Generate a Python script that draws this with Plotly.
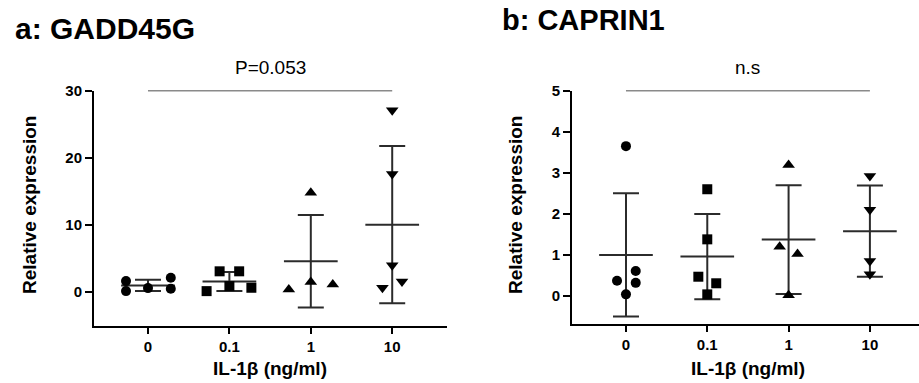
import plotly.graph_objects as go

# ---------------- data ----------------
dose_labels = ["0", "0.1", "1", "10"]

# Panel a: GADD45G
gadd_g0 = [1.64, 0.15, 0.6, 2.15, 0.5]
gadd_g01 = [0.15, 3.1, 0.9, 3.1, 0.65]
gadd_g1 = [0.4, 14.8, 1.5, 1.15]
gadd_g10 = [27.1, 17.6, 4.0, 0.65, 1.6]
gadd_mean = [1.0, 1.58, 4.6, 10.05]
gadd_sd = [0.85, 1.42, 6.9, 11.7]

# Panel b: CAPRIN1
cap_g0 = [3.65, 0.37, 0.61, 0.32, 0.04]
cap_g01 = [2.6, 1.38, 0.47, 0.31, 0.04]
cap_g1 = [3.19, 1.2, 1.02, 0.02]
cap_g10 = [2.92, 2.1, 0.85, 0.53]
cap_mean = [1.0, 0.96, 1.375, 1.58]
cap_sd = [1.5, 1.04, 1.325, 1.11]

# horizontal scatter offsets (category units)
gadd_off = [[-0.27, -0.27, 0, 0.28, 0.28],
            [-0.28, -0.12, 0, 0.12, 0.27],
            [-0.27, 0, 0, 0.27],
            [0, 0, 0, -0.12, 0.12]]
cap_off = [[0, -0.11, 0.12, 0.12, 0],
           [0, 0, -0.11, 0.11, 0],
           [0, -0.11, 0.11, 0],
           [0, 0, 0, 0]]

symbols = ["circle", "square", "triangle-up", "triangle-down"]
sizes = [10, 10, 11, 11]

FONT = "Liberation Sans, Arial, sans-serif"
LINE_COL = "#2b2b2b"

fig = go.Figure()


def add_panel(groups, offsets, means, sds, xa, ya):
    # mean lines
    for i, m in enumerate(means):
        fig.add_trace(go.Scatter(
            x=[i - 0.33, i + 0.33], y=[m, m], mode="lines",
            line=dict(color=LINE_COL, width=2), xaxis=xa, yaxis=ya,
            showlegend=False, hoverinfo="skip"))
    # SD error bars
    fig.add_trace(go.Scatter(
        x=list(range(len(means))), y=means, mode="markers",
        marker=dict(size=1, color="rgba(0,0,0,0)"),
        error_y=dict(type="data", array=sds, symmetric=True, color=LINE_COL,
                     thickness=2, width=13),
        xaxis=xa, yaxis=ya, showlegend=False, hoverinfo="skip"))
    # points
    for i, (vals, offs) in enumerate(zip(groups, offsets)):
        fig.add_trace(go.Scatter(
            x=[i + o for o in offs], y=vals, mode="markers",
            marker=dict(symbol=symbols[i], size=sizes[i], color="black",
                        line=dict(width=0)),
            xaxis=xa, yaxis=ya, showlegend=False, cliponaxis=False))


add_panel([gadd_g0, gadd_g01, gadd_g1, gadd_g10], gadd_off, gadd_mean, gadd_sd, "x", "y")
add_panel([cap_g0, cap_g01, cap_g1, cap_g10], cap_off, cap_mean, cap_sd, "x2", "y2")

tickfont = dict(family=FONT, size=15, color="black", weight="bold")
xcommon = dict(tickvals=[0, 1, 2, 3], ticktext=dose_labels, showline=True,
               linecolor="black", linewidth=2, ticks="outside", ticklen=6,
               tickwidth=2, tickcolor="black", showgrid=False, zeroline=False,
               tickfont=tickfont, fixedrange=True, automargin=False)
ycommon = dict(showline=True, linecolor="black", linewidth=2, ticks="outside",
               ticklen=7, tickwidth=2, tickcolor="black", showgrid=False,
               zeroline=False, tickfont=tickfont, fixedrange=True, automargin=False)

fig.update_layout(
    template="none",
    width=919, height=383,
    margin=dict(l=0, r=0, t=0, b=0, autoexpand=False),
    paper_bgcolor="white", plot_bgcolor="white",
    xaxis=dict(domain=[0.1023, 0.4864], range=[-0.663, 3.673], anchor="y", **xcommon),
    yaxis=dict(domain=[0.1496, 0.7632], range=[-5, 30], tickvals=[0, 10, 20, 30],
               anchor="x", **ycommon),
    xaxis2=dict(domain=[0.6224, 1.0], range=[-0.664, 3.604], anchor="y2", **xcommon),
    yaxis2=dict(domain=[0.154, 0.7632], range=[-0.682, 5], tickvals=[0, 1, 2, 3, 4, 5],
                anchor="x2", **ycommon),
)

# significance lines
for xa, ya in [("x", "y domain"), ("x2", "y2 domain")]:
    fig.add_shape(type="line", xref=xa, yref=ya, x0=0, x1=3, y0=1.0, y1=1.0,
                  line=dict(color="#8a8a8a", width=1.5))

ann_font = dict(family=FONT, size=19, color="black")
bold19 = dict(family=FONT, size=19, color="black", weight="bold")
annotations = [
    dict(text="P=0.053", xref="x", yref="y domain", x=1.5, y=1.0, yanchor="middle",
         yshift=23, showarrow=False, font=ann_font),
    dict(text="n.s", xref="x2", yref="y2 domain", x=1.5, y=1.0, yanchor="middle",
         yshift=23, showarrow=False, font=ann_font),
    dict(text="a: GADD45G", xref="paper", yref="paper", x=13 / 919, xanchor="left",
         y=1 - 28 / 383, yanchor="middle", showarrow=False,
         font=dict(family=FONT, size=30, color="black", weight="bold")),
    dict(text="b: CAPRIN1", xref="paper", yref="paper", x=500 / 919, xanchor="left",
         y=1 - 20 / 383, yanchor="middle", showarrow=False,
         font=dict(family=FONT, size=29, color="black", weight="bold")),
    dict(text="Relative expression", xref="paper", yref="paper", x=29 / 919,
         xanchor="center", yanchor="middle",
         y=1 - 205 / 383, textangle=-90, showarrow=False, font=bold19),
    dict(text="Relative expression", xref="paper", yref="paper", x=515 / 919,
         xanchor="center", yanchor="middle",
         y=1 - 205 / 383, textangle=-90, showarrow=False, font=bold19),
    dict(text="IL-1β (ng/ml)", xref="x", yref="paper", x=1.5, y=1 - 368 / 383,
         xanchor="center", yanchor="middle", showarrow=False, font=bold19),
    dict(text="IL-1β (ng/ml)", xref="x2", yref="paper", x=1.5, y=1 - 368 / 383,
         xanchor="center", yanchor="middle", showarrow=False, font=bold19),
]
fig.update_layout(annotations=annotations)

fig.write_html("out.html", config={"displayModeBar": False},
               post_script="document.body.style.margin='0';document.body.style.overflow='hidden';")
